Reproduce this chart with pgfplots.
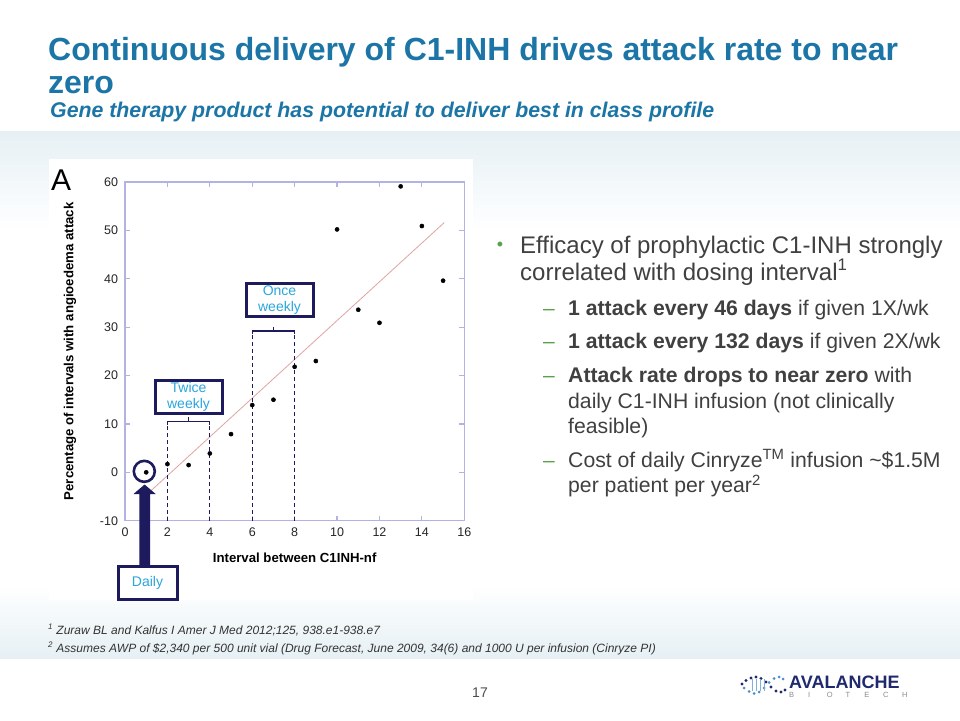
\documentclass[border=0pt]{standalone}
\usepackage{fontspec}
\setmainfont{Liberation Sans}
\usepackage{pgfplots}
\pgfplotsset{compat=1.18}
\definecolor{titleblue}{HTML}{1B75A6}
\definecolor{bandblue}{HTML}{E6F0F4}
\definecolor{framec}{HTML}{B3B3E3}
\definecolor{navy}{HTML}{1E1A5E}
\definecolor{boxtext}{HTML}{2AA6DC}
\definecolor{fitline}{HTML}{E0A4A4}
\definecolor{bodygray}{HTML}{404040}
\definecolor{bulletgreen}{HTML}{5BA14B}
\definecolor{logoblue}{HTML}{1F2A6E}
\definecolor{logolight}{HTML}{4A8FC8}
\newcommand{\fs}[1]{\fontsize{#1}{#1}\selectfont}
\begin{document}
\begin{tikzpicture}
\begin{scope}[x=1pt,y=-1pt]
\useasboundingbox (0,0) rectangle (960,720);
\fill[white] (0,0) rectangle (960,720);
\shade[top color=bandblue, bottom color=white] (0,131) rectangle (960,230);
\shade[top color=white, bottom color=bandblue] (0,585) rectangle (960,658);
\fill[white] (49,159) rectangle (473,600);

% title
\node[anchor=base west, inner sep=0, text=titleblue, font=\bfseries\fs{32}] at (48,60) {Continuous delivery of C1-INH drives attack rate to near};
\node[anchor=base west, inner sep=0, text=titleblue, font=\bfseries\fs{32}] at (48,93.5) {zero};
\node[anchor=base west, inner sep=0, text=titleblue, font=\bfseries\itshape\fs{21.3}] at (50,117.5) {Gene therapy product has potential to deliver best in class profile};

% panel letter
\node[anchor=base west, inner sep=0, font=\fs{30}] at (51,190) {A};
\end{scope}

\begin{axis}[
  at={(125pt,-520.7pt)}, anchor=south west,
  width=339.3pt, height=338.7pt, scale only axis,
  xmin=0, xmax=16, ymin=-10, ymax=60,
  xtick={0,2,...,16}, ytick={-10,0,...,60},
  axis line style={framec, line width=1.4pt},
  tick style={framec, line width=1.2pt},
  major tick length=5pt, tick align=inside,
  xtick pos=both, ytick pos=both,
  tick label style={font=\fs{12.5}, text=black!85},
  /pgf/number format/assume math mode=true,
  xticklabel style={yshift=-3.5pt},
  yticklabel style={xshift=-3.5pt},
  every axis x label/.style={at={(axis description cs:0.5,-0.1107)}, anchor=center, font=\bfseries\fs{13.2}},
  every axis y label/.style={at={(axis description cs:-0.162,0.5)}, rotate=90, anchor=center, font=\bfseries\fs{13.2}},
  xlabel={Interval between C1INH-nf},
  ylabel={Percentage of intervals with angioedema attack},
  clip=false,
]
\addplot[fitline, line width=0.8pt] coordinates {(1.25,-3.7) (15.05,51.6)};
% dosing brackets
\addplot[navy, line width=1.2pt, dash pattern=on 4pt off 3pt] coordinates {(2,-10) (2,10.5)};
\addplot[navy, line width=1.2pt, dash pattern=on 4pt off 3pt] coordinates {(4,-10) (4,10.5)};
\addplot[navy, line width=1.2pt] coordinates {(2,9.8) (2,10.5) (4,10.5) (4,9.8)};
\addplot[navy, line width=1.2pt] coordinates {(3,10.5) (3,11.4)};
\addplot[navy, line width=1.2pt, dash pattern=on 4pt off 3pt] coordinates {(6,-10) (6,29.2)};
\addplot[navy, line width=1.2pt, dash pattern=on 4pt off 3pt] coordinates {(8,-10) (8,29.2)};
\addplot[navy, line width=1.2pt] coordinates {(6,28.5) (6,29.2) (8,29.2) (8,28.5)};
\addplot[navy, line width=1.2pt] coordinates {(7,29.2) (7,30.1)};
% data
\addplot[only marks, mark=*, mark size=2.1pt, black] coordinates {
(1,0) (2,1.7) (3,1.5) (4,3.9) (5,7.9) (6,13.9) (7,15.0) (8,21.8)
(9,23.0) (10,50.2) (11,33.6) (12,30.9) (13,59.1) (14,50.9) (15,39.6)};
% annotation boxes
\node[draw=navy, line width=3pt, fill=white, minimum width=67pt, minimum height=33pt, inner sep=0pt, align=center, text=boxtext, font=\fontsize{14}{16}\selectfont] at (axis cs:2.995,15.67) {Twice\\weekly};
\node[draw=navy, line width=3pt, fill=white, minimum width=67pt, minimum height=33pt, inner sep=0pt, align=center, text=boxtext, font=\fontsize{14}{16}\selectfont] at (axis cs:7.286,35.61) {Once\\weekly};
\draw[navy, line width=2.6pt] (axis cs:0.91,0.2) circle[radius=10.5pt];
\end{axis}

\begin{scope}[x=1pt,y=-1pt]
% daily arrow and box
\fill[navy] (139.3,566) -- (139.3,494) -- (133.5,494) -- (144.6,484.5) -- (155.7,494) -- (150,494) -- (150,566) -- cycle;
\node[draw=navy, line width=3pt, fill=white, minimum width=59pt, minimum height=33pt, inner sep=0pt, text=boxtext, font=\fs{14}] at (147.5,582.5) {Daily};

% bullets
\node[anchor=center, inner sep=0, text=bulletgreen, font=\fs{18}] at (500,246) {•};
\node[anchor=base west, inner sep=0, text=bodygray, font=\fs{24}] at (520,253) {Efficacy of prophylactic C1-INH strongly};
\node[anchor=base west, inner sep=0, text=bodygray, font=\fs{24}] at (520,280) {correlated with dosing interval\textsuperscript{1}};
\foreach \yy in {315,348.3,382.3,467.3} {
  \node[anchor=base west, inner sep=0, text=bulletgreen, font=\fs{21}] at (543,\yy) {–};
}
\node[anchor=base west, inner sep=0, text=bodygray, font=\fs{21.2}] at (568,315) {\textbf{1 attack every 46 days} if given 1X/wk};
\node[anchor=base west, inner sep=0, text=bodygray, font=\fs{21.2}] at (568,348.3) {\textbf{1 attack every 132 days} if given 2X/wk};
\node[anchor=base west, inner sep=0, text=bodygray, font=\fs{21.2}] at (568,382.3) {\textbf{Attack rate drops to near zero} with};
\node[anchor=base west, inner sep=0, text=bodygray, font=\fs{21.2}] at (568,408.3) {daily C1-INH infusion (not clinically};
\node[anchor=base west, inner sep=0, text=bodygray, font=\fs{21.2}] at (568,433.3) {feasible)};
\node[anchor=base west, inner sep=0, text=bodygray, font=\fs{21.2}] at (568,467.3) {Cost of daily Cinryze\textsuperscript{TM} infusion \textasciitilde\$1.5M};
\node[anchor=base west, inner sep=0, text=bodygray, font=\fs{21.2}] at (568,492.7) {per patient per year\textsuperscript{2}};

% footnotes
\node[anchor=base west, inner sep=0, text=black!80, font=\itshape\fs{12}] at (48,634) {\textsuperscript{1} Zuraw BL and Kalfus I Amer J Med 2012;125, 938.e1-938.e7};
\node[anchor=base west, inner sep=0, text=black!80, font=\itshape\fs{12}] at (48,652) {\textsuperscript{2} Assumes AWP of \$2,340 per 500 unit vial (Drug Forecast, June 2009, 34(6) and 1000 U per infusion (Cinryze PI)};

% page number
\node[anchor=base, inner sep=0, text=black!70, font=\fs{14}] at (480,697) {17};

% logo
\node[anchor=base west, inner sep=0, text=logoblue, font=\bfseries\fs{18}] at (789,688) {AVALANCHE};
\foreach \l [count=\i from 0] in {B,I,O,T,E,C,H} {
  \node[anchor=base west, inner sep=0, text=black!45, font=\fs{7.5}] at (789+18.8*\i,697) {\l};
}
\foreach \p/\r in {742/684, 746/680.5, 751/678, 756/677, 761/678.5, 766/682, 771/687, 776/691, 781/692, 785/690} {
  \fill[logoblue] (\p,\r) circle[radius=1.6pt];
}
\foreach \p/\r in {744/688, 749/691.5, 754/693.5, 759/692, 764/688, 769/682.5, 774/678.5, 779/677, 783/679} {
  \fill[logolight] (\p,\r) circle[radius=1.5pt];
}
\foreach \p in {752,756,760,764} {
  \draw[logolight!70, line width=0.8pt] (\p,679) -- (\p,691);
}
\end{scope}
\end{tikzpicture}
\end{document}
